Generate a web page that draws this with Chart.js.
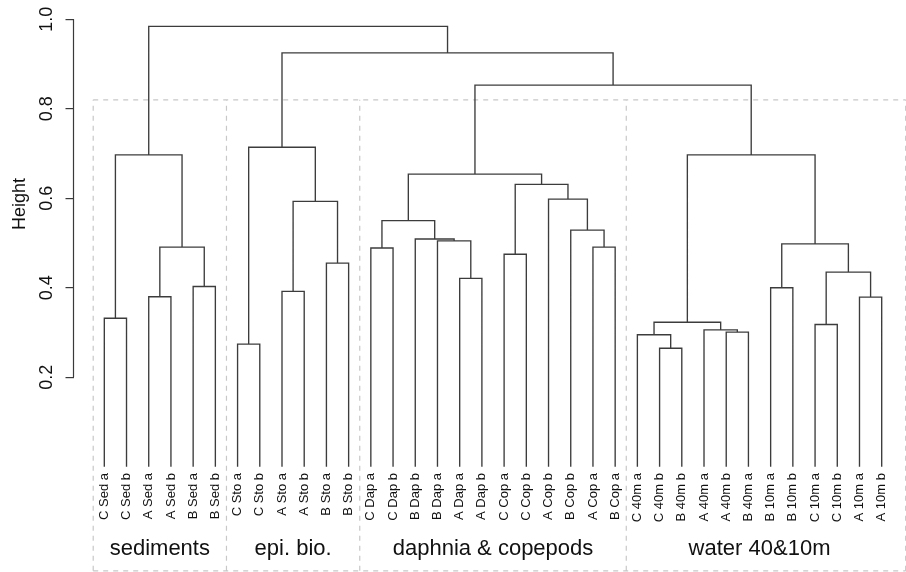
<!DOCTYPE html>
<html><head><meta charset="utf-8">
<script src="https://cdn.jsdelivr.net/npm/chart.js@4.4.1/dist/chart.umd.min.js"></script>
<style>html,body{margin:0;padding:0;background:#fff}#wrap{width:906px;height:572px}</style>
</head><body><div id="wrap"><canvas id="c" width="906" height="572"></canvas></div>
<script>
// ---- data ----
const leafLabels = [
  'C Sed a','C Sed b','A Sed a','A Sed b','B Sed a','B Sed b',
  'C Sto a','C Sto b','A Sto a','A Sto b','B Sto a','B Sto b',
  'C Dap a','C Dap b','B Dap b','B Dap a','A Dap a','A Dap b',
  'C Cop a','C Cop b','A Cop b','B Cop b','A Cop a','B Cop a',
  'C 40m a','C 40m b','B 40m b','A 40m a','A 40m b','B 40m a',
  'B 10m a','B 10m b','C 10m a','C 10m b','A 10m a','A 10m b'
];
// R-style merge table: negative = leaf (-(index+1)), positive = earlier merge (1-based)
const mergeLeft  = [-26,-25, -7,-29,-28,  2,-33, -1,-35, -3, -9,-31, -5,-17,  7,-11,-19,-13,-23, 10, 12,-16,-15,-22, 18, 11,-21, 17, 25,  8,  6,  3, 29, 32, 30];
const mergeRight = [-27,  1, -8,-30,  4,  5,-34, -2,-36, -4,-10,-32, -6,-18,  9,-12,-20,-14,-24, 13, 15, 14, 22, 19, 23, 16, 24, 27, 28, 20, 21, 26, 31, 33, 34];
const mergeHeights = [0.265,0.295,0.274,0.301,0.306,0.323,0.318,0.332,0.379,0.380,0.392,0.400,0.403,0.421,0.435,0.455,0.475,0.489,0.491,0.491,0.498,0.505,0.509,0.529,0.550,0.593,0.598,0.631,0.654,0.697,0.697,0.714,0.853,0.925,0.984];
const yTicks = [0.2, 0.4, 0.6, 0.8, 1.0];
const groupNames = ['sediments', 'epi. bio.', 'daphnia & copepods', 'water 40&10m'];
const groupSizes = [6, 6, 12, 12];
const boxTop = 0.82;

// ---- layout constants ----
const xMin = -1.387, xMax = 36.094;
const yMin = 0.1314, yMax = 1.0431;
const boxBottom = -0.2325;
const FONT = "'Liberation Sans', Arial, Helvetica, sans-serif";
Chart.defaults.font.family = FONT;
const TEXT = '#111';

// ---- build dendrogram segments ----
const nodeX = [], nodeH = [];
function ref(r) { return r < 0 ? { x: -r - 1, h: 0 } : { x: nodeX[r - 1], h: nodeH[r - 1] }; }
const dendro = [];
for (let k = 0; k < mergeHeights.length; k++) {
  const a = ref(mergeLeft[k]), b = ref(mergeRight[k]), h = mergeHeights[k];
  dendro.push({x: a.x, y: a.h}, {x: a.x, y: h}, {x: b.x, y: h}, {x: b.x, y: b.h}, {x: b.x, y: null});
  nodeX.push((a.x + b.x) / 2); nodeH.push(h);
}

// ---- group boxes ----
const groupStarts = []; let acc = 0;
groupSizes.forEach(s => { groupStarts.push(acc); acc += s; });
const groupCenters = groupSizes.map((s, i) => groupStarts[i] + (s - 1) / 2);
const edges = groupStarts.map(s => s - 0.5).concat([xMax - 0.015]);
const boxes = [];
edges.forEach(e => { boxes.push({x: e, y: boxBottom}, {x: e, y: boxTop}, {x: e, y: null}); });
boxes.push({x: edges[0], y: boxTop}, {x: edges[edges.length - 1], y: boxTop}, {x: 0, y: null});
boxes.push({x: edges[0], y: boxBottom}, {x: edges[edges.length - 1], y: boxBottom});

const axisLine = {
  id: 'axisLine',
  afterDraw(chart) {
    const s = chart.scales.y, ctx = chart.ctx;
    ctx.save();
    ctx.strokeStyle = '#3a3a3a'; ctx.lineWidth = 1.2;
    ctx.beginPath();
    ctx.moveTo(s.right, s.getPixelForValue(yTicks[0]));
    ctx.lineTo(s.right, s.getPixelForValue(yTicks[yTicks.length - 1]));
    ctx.stroke();
    ctx.restore();
  }
};

new Chart(document.getElementById('c'), {
  type: 'scatter',
  data: {
    datasets: [
      { data: dendro, showLine: true, pointRadius: 0, borderColor: '#3c3c3c', borderWidth: 1.35, clip: false, spanGaps: false, xAxisID: 'x', yAxisID: 'y' },
      { data: boxes, showLine: true, pointRadius: 0, borderColor: '#c8c8c8', borderWidth: 1.2, borderDash: [5, 5], clip: false, spanGaps: false, xAxisID: 'x', yAxisID: 'y' }
    ]
  },
  options: {
    responsive: false, animation: false, devicePixelRatio: 1,
    layout: { padding: 0 },
    plugins: { legend: { display: false }, tooltip: { enabled: false } },
    scales: {
      x: {
        type: 'linear', axis: 'x', position: 'bottom', weight: 0, min: xMin, max: xMax,
        afterBuildTicks: s => { s.ticks = leafLabels.map((_, i) => ({ value: i })); },
        afterFit: s => { s.height = 124; s.paddingLeft = 0; s.paddingRight = 0; },
        grid: { display: false, drawTicks: false }, border: { display: false },
        ticks: { autoSkip: false, minRotation: 90, maxRotation: 90, padding: 65, color: TEXT, font: { size: 13 },
                 callback: (v, i) => leafLabels[i] }
      },
      x2: {
        type: 'linear', axis: 'x', position: 'bottom', weight: 1, min: xMin, max: xMax,
        afterBuildTicks: s => { s.ticks = groupCenters.map(v => ({ value: v })); },
        afterFit: s => { s.height = 40; s.paddingLeft = 0; s.paddingRight = 0; },
        grid: { display: false, drawTicks: false }, border: { display: false },
        ticks: { autoSkip: false, minRotation: 0, maxRotation: 0, padding: 4, color: TEXT, font: { size: 22 },
                 callback: (v, i) => groupNames[i] }
      },
      y: {
        type: 'linear', position: 'left', min: yMin, max: yMax,
        afterBuildTicks: s => { s.ticks = yTicks.map(v => ({ value: v })); },
        afterFit: s => { s.width = 73.5; s.paddingTop = 0; s.paddingBottom = 0; },
        grid: { drawOnChartArea: false, drawTicks: true, tickLength: 8, color: '#3a3a3a', lineWidth: 1.2 },
        border: { display: false },
        ticks: { minRotation: 90, maxRotation: 90, crossAlign: 'center', padding: 5.5, color: TEXT, font: { size: 18 },
                 callback: v => v.toFixed(1) },
        title: { display: true, text: 'Height', color: TEXT, font: { size: 18 }, padding: { top: 9.2, bottom: 0 } }
      }
    }
  },
  plugins: [axisLine]
});
</script>
</body></html>
